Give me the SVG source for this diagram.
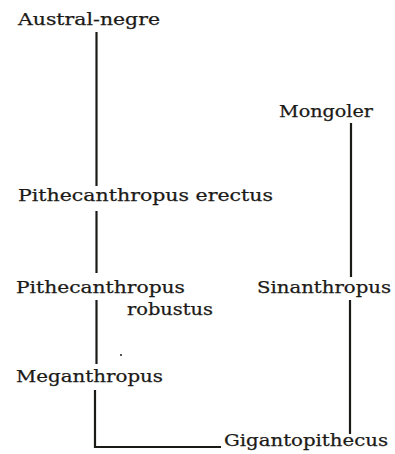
<svg xmlns="http://www.w3.org/2000/svg" width="395" height="454" viewBox="0 0 395 454">
<style>
.lbl{font-family:"DejaVu Serif","Liberation Serif",serif;font-size:17px;fill:#1c1a17;stroke:#1c1a17;stroke-width:0.25}
.ln{stroke:#1c1a17;stroke-width:2.2;fill:none}
</style>
<rect width="395" height="454" fill="#ffffff"/>
<g id="connectors">
<line class="ln" x1="96.5" y1="32" x2="96.5" y2="186"/>
<line class="ln" x1="96.5" y1="211" x2="96.5" y2="273"/>
<line class="ln" x1="96.5" y1="300" x2="96.5" y2="364"/>
<polyline class="ln" points="95,390 95,447 221,447"/>
<line class="ln" x1="351" y1="123" x2="351" y2="277"/>
<line class="ln" x1="350" y1="300" x2="350" y2="434"/>
</g>
<g id="austral-negre"><text class="lbl" x="18" y="25" textLength="142" lengthAdjust="spacingAndGlyphs">Austral-negre</text></g>
<g id="pithecanthropus-erectus"><text class="lbl" x="18" y="201" textLength="255" lengthAdjust="spacingAndGlyphs">Pithecanthropus erectus</text></g>
<g id="pithecanthropus-robustus">
<text class="lbl" x="16" y="293" textLength="169" lengthAdjust="spacingAndGlyphs">Pithecanthropus</text>
<text class="lbl" x="127" y="315" textLength="86" lengthAdjust="spacingAndGlyphs">robustus</text>
</g>
<g id="meganthropus"><text class="lbl" x="16" y="382" textLength="147" lengthAdjust="spacingAndGlyphs">Meganthropus</text></g>
<g id="mongoler"><text class="lbl" x="279" y="117" textLength="94" lengthAdjust="spacingAndGlyphs">Mongoler</text></g>
<g id="sinanthropus"><text class="lbl" x="257" y="293" textLength="134" lengthAdjust="spacingAndGlyphs">Sinanthropus</text></g>
<g id="gigantopithecus"><text class="lbl" x="224" y="446" textLength="164" lengthAdjust="spacingAndGlyphs">Gigantopithecus</text></g>
<circle cx="121" cy="355" r="1" fill="#1c1a17"/>
</svg>
